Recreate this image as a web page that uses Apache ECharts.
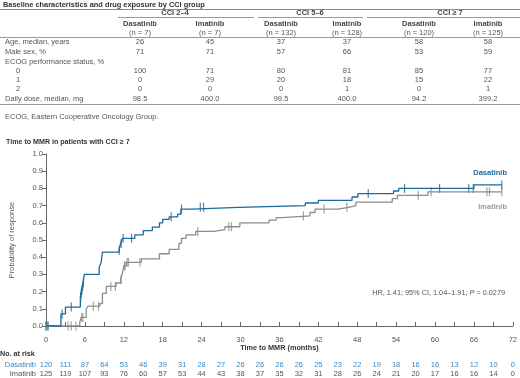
<!DOCTYPE html>
<html>
<head>
<meta charset="utf-8">
<script src="https://cdn.jsdelivr.net/npm/echarts@6/dist/echarts.min.js"></script>
<style>
html, body { margin: 0; padding: 0; background: #fff; }
#main { width: 520px; height: 378px; }
</style>
</head>
<body>
<div id="main"></div>
<script>
// table data
const tableTitle = 'Baseline characteristics and drug exposure by CCI group'
const groupNames = ['CCI 2–4', 'CCI 5–6', 'CCI ≥ 7']
const armNames = ['Dasatinib', 'Imatinib', 'Dasatinib', 'Imatinib', 'Dasatinib', 'Imatinib']
const armN = ['(n = 7)', '(n = 7)', '(n = 132)', '(n = 128)', '(n = 120)', '(n = 125)']
const rowLabels = ['Age, median, years', 'Male sex, %', 'ECOG performance status, %', '0', '1', '2', 'Daily dose, median, mg']
const colDasa24 = ['26', '71', '', '100', '0', '0', '98.5']
const colIma24 = ['45', '71', '', '71', '29', '0', '400.0']
const colDasa56 = ['37', '57', '', '80', '20', '0', '99.5']
const colIma56 = ['37', '66', '', '81', '18', '1', '400.0']
const colDasa7 = ['58', '53', '', '85', '15', '0', '94.2']
const colIma7 = ['58', '59', '', '77', '22', '1', '399.2']
const footnote = 'ECOG, Eastern Cooperative Oncology Group.'

// Kaplan-Meier data (CCI >= 7), step times (months) and probability after the step
const dasaTimes = [0, 2.3, 3.0, 5.3, 5.4, 5.5, 5.6, 5.7, 5.8, 5.9, 8.2, 8.5, 8.7, 11.2, 11.5, 11.8, 13.7, 15.0, 16.4, 17.5, 18.0, 19.0, 20.3, 20.8, 22.5, 29.7, 40.0, 42.0, 47.2, 48.1, 53.6, 54.4, 66.0, 70.3]
const dasaProb = [0, 0.07, 0.11, 0.17, 0.19, 0.21, 0.23, 0.25, 0.27, 0.30, 0.34, 0.37, 0.43, 0.44, 0.48, 0.51, 0.53, 0.555, 0.575, 0.60, 0.62, 0.635, 0.65, 0.68, 0.69, 0.70, 0.715, 0.73, 0.75, 0.77, 0.785, 0.80, 0.82, 0.82]
const dasaCensored = [0, 0.3, 2.5, 3.9, 5.35, 5.45, 5.55, 5.65, 5.75, 11.3, 11.6, 11.9, 13.2, 19.3, 20.9, 23.8, 24.3, 49.7, 55.3, 60.7, 65.2, 65.9, 70.3]

const imaTimes = [0, 5.2, 5.4, 6.2, 6.5, 8.3, 8.7, 9.3, 10.8, 11.5, 11.8, 12.0, 12.4, 14.7, 17.5, 19.0, 20.5, 20.9, 21.6, 23.1, 25.9, 27.6, 29.9, 34.4, 35.5, 36.5, 40.7, 41.5, 45.0, 46.7, 47.8, 53.4, 54.2, 58.9, 70.3]
const imaProb = [0, 0.02, 0.05, 0.10, 0.115, 0.13, 0.19, 0.23, 0.25, 0.27, 0.31, 0.35, 0.37, 0.39, 0.42, 0.445, 0.48, 0.51, 0.53, 0.55, 0.56, 0.577, 0.60, 0.615, 0.63, 0.64, 0.66, 0.68, 0.69, 0.70, 0.72, 0.74, 0.76, 0.78, 0.78]
const imaCensored = [0, 0.3, 3.4, 3.9, 4.6, 5.5, 5.7, 7.3, 8.1, 10.0, 10.7, 11.6, 12.1, 12.2, 12.5, 12.7, 14.5, 23.4, 28.2, 28.6, 39.7, 42.9, 46.4, 57.4, 59.4, 68.0, 68.4, 70.3]

// number at risk
const riskTimes = [0, 3, 6, 9, 12, 15, 18, 21, 24, 27, 30, 33, 36, 39, 42, 45, 48, 51, 54, 57, 60, 63, 66, 69, 72]
const riskDasa = [120, 111, 87, 64, 53, 46, 39, 31, 28, 27, 26, 26, 26, 26, 25, 23, 22, 19, 18, 16, 16, 13, 12, 10, 0]
const riskIma = [125, 119, 107, 93, 76, 60, 57, 53, 44, 43, 38, 37, 35, 32, 31, 28, 26, 24, 21, 20, 17, 16, 16, 14, 0]

const BLUE = '#1d6a99'
const BLUE_TXT = '#3a87bb'
const GREY = '#8c8c8c'
const TXT = '#555'
const FONT = 'Arial, "Liberation Sans", sans-serif'

function stepAt(times, probs, t) {
  let v = probs[0]
  for (let i = 0; i < times.length; i++) {
    if (times[i] <= t) v = probs[i]
  }
  return v
}
function pairs(times, probs) {
  return times.map((t, i) => [t, probs[i]])
}
function censorPts(cens, times, probs) {
  return cens.map(t => [t, stepAt(times, probs, t)])
}

function txt(text, x, y, opts) {
  opts = opts || {}
  return {
    type: 'text',
    silent: true,
    style: {
      text: text, x: x, y: y,
      fill: opts.fill || TXT,
      font: (opts.bold ? 'bold ' : '') + (opts.size || 7.5) + 'px ' + FONT,
      align: opts.align || 'left', textAlign: opts.align || 'left',
      verticalAlign: 'middle', textVerticalAlign: 'middle',
      rich: opts.rich
    }
  }
}
function hline(x1, x2, y, color) {
  return {
    type: 'line', silent: true,
    shape: { x1: x1, y1: y, x2: x2, y2: y },
    style: { stroke: color || '#999', lineWidth: 1 }
  }
}

const chart = echarts.init(document.getElementById('main'))

chart.setOption({
  animation: false,
  grid: { left: 41, right: 4, top: 154, bottom: 52 },
  xAxis: {
    type: 'value', min: 0, max: 72, interval: 3, offset: 7,
    name: 'Time to MMR (months)', nameLocation: 'middle', nameGap: 11,
    nameTextStyle: { fontFamily: FONT, fontSize: 7.3, fontWeight: 'bold', color: '#333' },
    axisLine: { lineStyle: { color: '#666', width: 1 } },
    axisTick: { inside: true, length: 4, lineStyle: { color: '#666' } },
    axisLabel: {
      fontFamily: FONT, fontSize: 7.5, color: TXT, margin: 3,
      formatter: v => (v % 6 === 0 ? String(v) : '')
    },
    splitLine: { show: false }
  },
  yAxis: {
    type: 'value', min: 0, max: 1, interval: 0.1,
    name: 'Probability of response', nameLocation: 'middle', nameGap: 30, nameRotate: 90,
    nameTextStyle: { fontFamily: FONT, fontSize: 7.5, color: TXT },
    axisLine: { show: true, lineStyle: { color: '#666', width: 1 } },
    axisTick: { show: true, length: 4, lineStyle: { color: '#666' } },
    axisLabel: { fontFamily: FONT, fontSize: 7.5, color: TXT, margin: 3, formatter: v => v.toFixed(1) },
    splitLine: { show: false }
  },
  series: [
    {
      name: 'Imatinib', type: 'line', step: 'end', showSymbol: false,
      data: pairs(imaTimes, imaProb),
      lineStyle: { color: GREY, width: 1.3 }, itemStyle: { color: GREY }
    },
    {
      name: 'Dasatinib', type: 'line', step: 'end', showSymbol: false,
      data: pairs(dasaTimes, dasaProb),
      lineStyle: { color: BLUE, width: 1.3 }, itemStyle: { color: BLUE }
    },
    {
      name: 'Imatinib censored', type: 'scatter', symbol: 'rect', symbolSize: [1.2, 9],
      data: censorPts(imaCensored, imaTimes, imaProb), itemStyle: { color: GREY }
    },
    {
      name: 'Dasatinib censored', type: 'scatter', symbol: 'rect', symbolSize: [1.2, 9],
      data: censorPts(dasaCensored, dasaTimes, dasaProb), itemStyle: { color: BLUE }
    }
  ]
})

// table and annotations
const g = []
const colX = [140, 210, 281, 347, 419, 488]
const groupX = [175, 310, 450]
const groupLines = [[118, 254], [258, 363], [367, 520]]
const rowY = [42.3, 52.3, 61.7, 70.7, 80, 89.3, 98.7]
const cols = [colDasa24, colIma24, colDasa56, colIma56, colDasa7, colIma7]

g.push(txt(tableTitle, 3, 4.5, { bold: true, size: 7.4, fill: '#333' }))
g.push(hline(0, 520, 9.5, '#888'))
groupNames.forEach((n, i) => {
  g.push(txt(n, groupX[i], 13, { bold: true, align: 'center', fill: '#444' }))
  g.push(hline(groupLines[i][0], groupLines[i][1], 17.5, '#999'))
})
armNames.forEach((n, i) => {
  g.push(txt(n, colX[i], 24, { bold: true, align: 'center', fill: '#444' }))
  g.push(txt(armN[i], colX[i], 32.7, { align: 'center' }))
})
g.push(hline(0, 520, 37.5, '#999'))
rowLabels.forEach((n, r) => {
  const indent = n.length === 1 ? 16 : 5
  g.push(txt(n, indent, rowY[r]))
  cols.forEach((c, i) => {
    if (c[r] !== '') g.push(txt(c[r], colX[i], rowY[r], { align: 'center' }))
  })
})
g.push(hline(0, 520, 104.5, '#999'))
g.push(txt(footnote, 5, 117))

g.push(txt('Time to MMR in patients with CCI ≥ 7', 6, 142.5, { bold: true, size: 7.1, fill: '#333' }))
g.push(txt('Dasatinib', 507, 173, { bold: true, align: 'right', fill: BLUE }))
g.push(txt('Imatinib', 507, 207, { bold: true, align: 'right', fill: '#999' }))
g.push(txt('{a|HR, 1.41; 95% CI, 1.04–1.91; }{i|P}{a| = 0.0279}', 505, 292.5, {
  align: 'right',
  rich: {
    a: { fontFamily: FONT, fontSize: 7.3, fill: TXT, color: TXT },
    i: { fontFamily: FONT, fontSize: 7.3, fontStyle: 'italic', fill: TXT, color: TXT }
  }
}))

g.push(txt('No. at risk', 0, 354.5, { bold: true, size: 7.2, fill: '#333' }))
g.push(txt('Dasatinib', 36, 364.5, { align: 'right', fill: BLUE_TXT }))
g.push(txt('Imatinib', 36, 373.5, { align: 'right', fill: TXT }))
riskTimes.forEach((t, i) => {
  const x = chart.convertToPixel({ xAxisIndex: 0 }, t)
  g.push(txt(String(riskDasa[i]), x, 364.5, { align: 'center', fill: BLUE_TXT }))
  g.push(txt(String(riskIma[i]), x, 373.5, { align: 'center', fill: TXT }))
})

chart.setOption({ graphic: g })
</script>
</body>
</html>
